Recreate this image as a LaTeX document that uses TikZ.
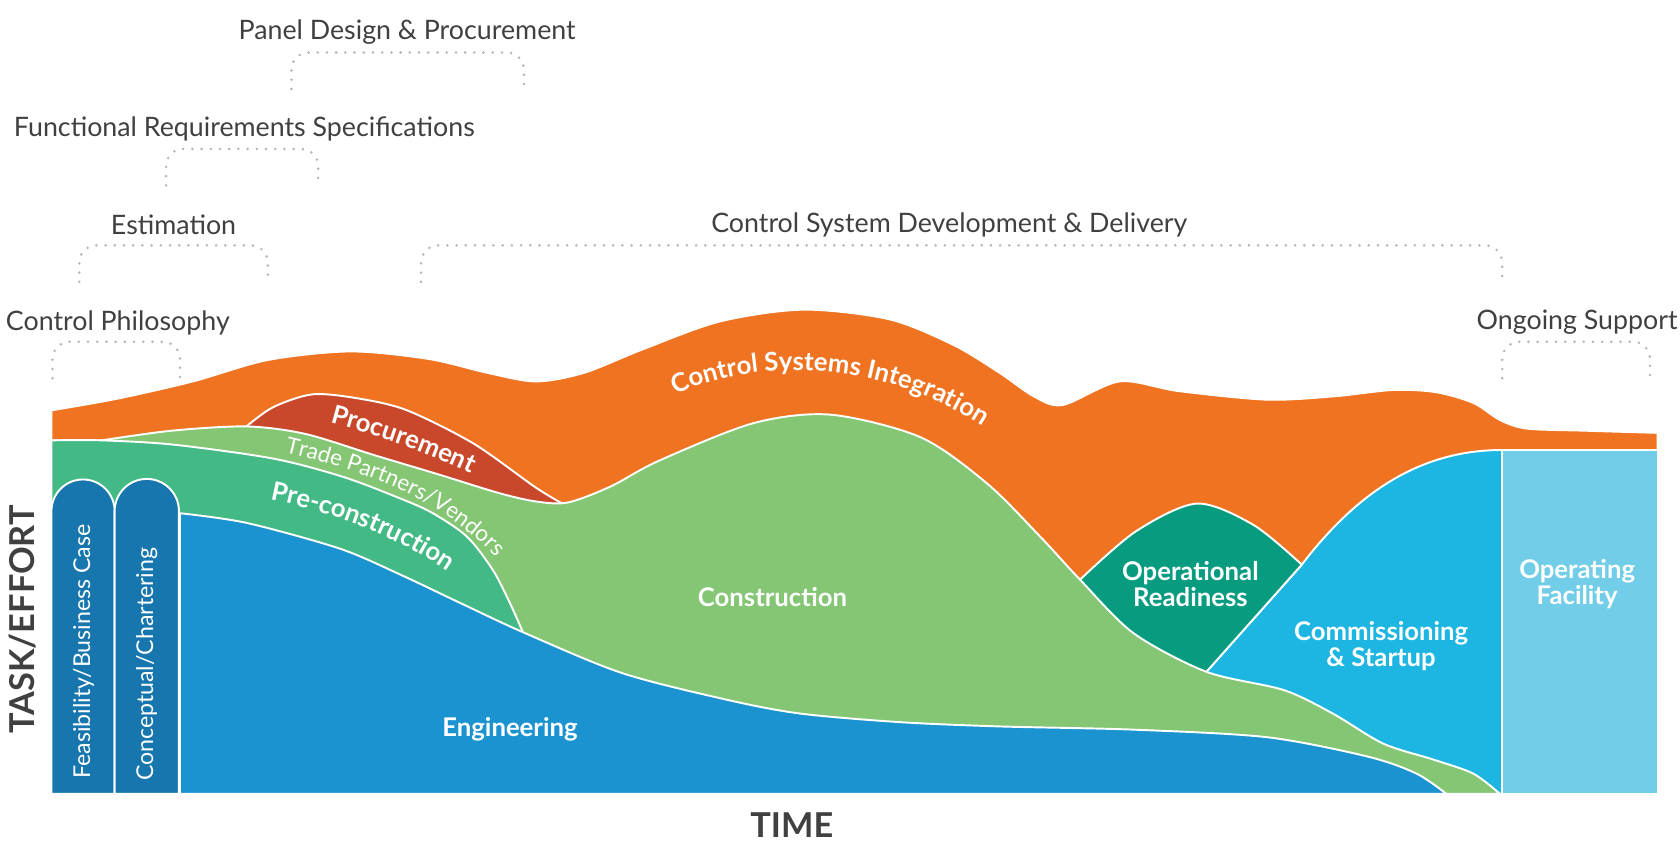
\documentclass[tikz,border=0pt]{standalone}
\usepackage{fontspec}
\setmainfont{Lato}
\usetikzlibrary{decorations.text}

\definecolor{integorange}{HTML}{F07322}
\definecolor{procred}{HTML}{C9472A}
\definecolor{constgreen}{HTML}{84C673}
\definecolor{pregreen}{HTML}{43B985}
\definecolor{engblue}{HTML}{1B93D0}
\definecolor{barblue}{HTML}{1676AD}
\definecolor{readyteal}{HTML}{079B80}
\definecolor{commcyan}{HTML}{1DB5E1}
\definecolor{facilblue}{HTML}{72CDE8}
\definecolor{labelgray}{HTML}{404040}
\definecolor{dotgray}{HTML}{B3B3B3}

\newcommand{\bandbold}{\color{white}\bfseries\fontsize{12}{12}\selectfont}
\newcommand{\bandthin}{\color{white}\fontsize{10.5}{10.5}\selectfont}

\begin{document}
\begin{tikzpicture}[x=0.5pt,y=-0.5pt,
  zone/.style={draw=white,line width=0.9pt,line join=round},
  phase/.style={text=white,font=\bfseries\fontsize{12}{12}\selectfont,align=center,inner sep=0pt},
  barlabel/.style={text=white,font=\fontsize{10.8}{11}\selectfont,rotate=90,inner sep=0pt},
  toplabel/.style={text=labelgray,font=\fontsize{12.5}{13}\selectfont,inner sep=0pt},
  axislabel/.style={text=labelgray,font=\bfseries\fontsize{16}{16}\selectfont,inner sep=0pt},
  bracket/.style={draw=dotgray,line width=1.3pt,line cap=round,dash pattern=on 0pt off 4.3pt,rounded corners=8pt},
  bandtext/.style={decorate,decoration={text along path,text align=center,text={#1}}}]

\useasboundingbox (0,0) rectangle (1568,797);

% integration band, everything under its top line
\path[zone,fill=integorange] plot[smooth] coordinates {(48,383) (110,372) (180,356) (250,336) (327,328) (400,335) (455,348) (500,356) (545,348) (600,326) (672,300) (750,289) (830,298) (890,322) (933,348) (965,370) (992,378) (1045,356) (1100,365) (1182,373) (1244,370) (1300,364) (1340,366) (1375,376) (1400,392) (1425,400) (1480,402) (1547,404)} -- (1547,741) -- (48,741) -- cycle;

% commissioning, readiness and procurement (lower parts hidden by construction)
\path[zone,fill=commcyan] (1126,627) -- (1215,527) .. controls (1270,455) and (1330,420) .. (1402,420) -- (1402,741) -- (1126,741) -- cycle;
\path[zone,fill=readyteal] plot[smooth] coordinates {(1008,541) (1060,496) (1117,470) (1170,490) (1215,527)} -- (1126,627) -- (1060,640) -- (990,560) -- cycle;
\path[zone,fill=procred] plot[smooth] coordinates {(230,398) (255,380) (292,368) (335,372) (380,383) (442,414) (500,455) (525,470)} -- (525,520) -- (230,450) -- cycle;

% construction + trade partners
\path[zone,fill=constgreen] plot[smooth] coordinates {(95,411) (160,402) (230,398) (285,405) (350,425) (410,443) (465,460) (500,468) (530,469) (570,454) (615,430) (703,395) (775,387) (859,408) (921,451) (971,501) (1008,541) (1058,591) (1126,627) (1198,644) (1244,666) (1291,694) (1338,709) (1375,722) (1400,741)} -- (48,741) -- (48,411) -- cycle;

% pre-construction and engineering
\path[zone,fill=pregreen] plot[smooth] coordinates {(48,411) (95,411) (162,415) (255,428) (320,445) (373,465) (404,479) (436,501) (460,532) (476,563) (488,590)} -- (488,741) -- (48,741) -- cycle;
\path[zone,fill=engblue] plot[smooth] coordinates {(168,479) (230,488) (317,512) (373,536) (430,563) (488,590) (580,628) (678,653) (747,666) (840,674) (933,678) (1058,681) (1182,688) (1276,706) (1322,722) (1350,741)} -- (168,741) -- cycle;

% early phase bars
\path[zone,fill=barblue] (48,741) -- (48,477) arc[start angle=180,end angle=0,radius=14.75pt] -- (107,741) -- cycle;
\path[zone,fill=barblue] (107,741) -- (107,477) arc[start angle=180,end angle=0,radius=15pt] -- (167,741) -- cycle;

% operating facility
\path[zone,fill=facilblue] (1402,420) rectangle (1547,741);

% curved band labels
\path[bandtext={|\bandbold|Control Systems Integration}] (600,385) .. controls (680,330) and (830,325) .. (945,418);
\path[bandtext={|\bandbold|Procurement}] (280,388) .. controls (330,398) and (410,425) .. (465,455);
\path[bandtext={|\bandthin|Trade Partners/Vendors}] (240,416) .. controls (330,436) and (420,462) .. (480,540);
\path[bandtext={|\bandbold|Pre-construction}] (225,462) .. controls (290,470) and (380,500) .. (440,550);

% straight labels
\node[phase] (eng) at (476,681) {Engineering};
\node[phase] (constr) at (721,557) {Construction};
\node[phase] (ready) at (1111,545) {Operational\\Readiness};
\node[phase] (commis) at (1289,603) {Commissioning\\\& Startup};
\node[phase] (facil) at (1472,545) {Operating\\Facility};
\node[barlabel] (feas) at (78,608) {Feasibility/Business Case};
\node[barlabel] (concept) at (137,620) {Conceptual/Chartering};
\node[axislabel,rotate=90] (effort) at (21,578) {TASK/EFFORT};
\node[axislabel] (time) at (739,770) {TIME};

% phases above the chart
\node[toplabel] (panel) at (380,30) {Panel Design \& Procurement};
\node[toplabel] (frs) at (228,120) {Functional Requirements Specifications};
\node[toplabel] (estim) at (162,210) {Estimation};
\node[toplabel] (csdd) at (886,210) {Control System Development \& Delivery};
\node[toplabel] (philo) at (110,301) {Control Philosophy};
\node[toplabel] (support) at (1472,301) {Ongoing Support};
\foreach \xa/\xb/\yt in {272/489/49, 155/297/139, 74/250/229, 393/1402/229, 49/168/319, 1402/1540/319}
  \draw[bracket] (\xa,\yt+34) -- (\xa,\yt) -- (\xb,\yt) -- (\xb,\yt+34);
\end{tikzpicture}
\end{document}
